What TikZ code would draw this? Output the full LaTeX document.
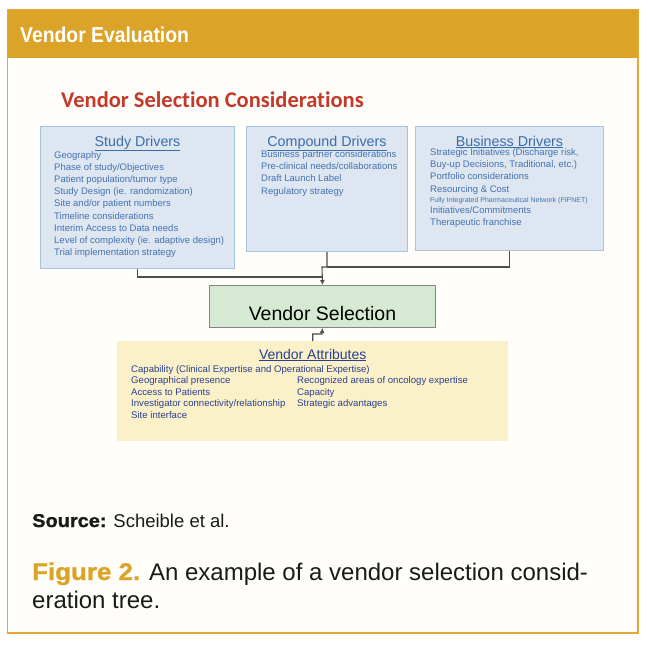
\documentclass[tikz,border=0pt]{standalone}
\usepackage{fontspec}
\setmainfont{Liberation Sans}
\newfontfamily\titrefont[Ligatures=NoCommon]{Carlito}
\newfontfamily\bandeaufont[FakeStretch=0.9]{Liberation Sans}
\newfontfamily\lourdefont[FakeStretch=1.08,FakeBold=1.2]{Liberation Sans}
\usetikzlibrary{arrows.meta, positioning}
\definecolor{dore}{HTML}{DCA329}
\definecolor{cadre}{HTML}{E6A735}
\definecolor{fondpage}{HTML}{FFFEFB}
\definecolor{rouge}{HTML}{C4392A}
\definecolor{bleufond}{HTML}{DDE6F1}
\definecolor{bleubord}{HTML}{A9C4DE}
\definecolor{bleutexte}{HTML}{4473B0}
\definecolor{bleutete}{HTML}{3B6EA9}
\definecolor{vertfond}{HTML}{D6E9D2}
\definecolor{grisbord}{HTML}{858585}
\definecolor{jaunefond}{HTML}{FBF1C8}
\definecolor{marine}{HTML}{2B3F8E}
\definecolor{trait}{HTML}{4D4D4D}
\definecolor{encre}{HTML}{1A1A1A}
\tikzset{
  pilier/.style={rectangle, draw=bleubord, fill=bleufond, line width=1pt,
    anchor=north west, inner sep=0pt},
  tete/.style={anchor=base, inner sep=0pt, text=bleutete,
    font=\fontsize{14.3}{17}\selectfont},
  liste/.style={anchor=north west, inner sep=0pt, align=left, text=bleutexte,
    font=\fontsize{9.5}{12.2}\selectfont},
  choix/.style={rectangle, draw=grisbord, fill=vertfond, line width=1pt,
    anchor=north west, inner sep=0pt, minimum width=226pt,
    text height=35pt, text depth=7pt, font=\fontsize{19.5}{23}\selectfont},
  attrbloc/.style={rectangle, fill=jaunefond, anchor=north west, inner sep=0pt},
  attrtete/.style={tete, text=marine, font=\fontsize{14}{17}\selectfont},
  attrliste/.style={liste, text=marine, font=\fontsize{9.6}{11.5}\selectfont},
  bandeau/.style={anchor=base west, inner sep=0pt, text=white,
    font=\bandeaufont\bfseries\fontsize{21.5}{24}\selectfont},
  titre/.style={anchor=base west, inner sep=0pt, text=rouge,
    font=\titrefont\bfseries\fontsize{22.5}{26}\selectfont},
  lien/.style={draw=trait, line width=1.1pt},
  fleche/.style={lien, -{Latex[length=5pt, width=5pt]}},
  legende/.style={anchor=base west, inner sep=0pt, text=encre, align=left},
}
\begin{document}
\begin{tikzpicture}[x=1pt, y=1pt]
  \useasboundingbox (0,0) rectangle (648,-648);
  % cadre et bandeau
  \draw[cadre, fill=fondpage, line width=1.3pt] (7.5,-10) rectangle (638,-633);
  \fill[dore] (7.5,-10) rectangle (638,-57.5);
  \node[bandeau] (entete) at (20,-42) {Vendor Evaluation};
  \node[titre] (titre) at (61,-107) {Vendor Selection Considerations};

  % les trois familles de facteurs
  \node[pilier, minimum width=194pt, minimum height=142pt] (etude) at (40,-126) {};
  \node[pilier, minimum width=161pt, minimum height=125pt] (compose) at (246,-126) {};
  \node[pilier, minimum width=188pt, minimum height=124pt] (affaires) at (415,-126) {};

  \node[tete] (etude-t) at ([yshift=-20pt]etude.north) {\underline{Study Drivers}};
  \node[liste] (etude-l) at ([xshift=14pt, yshift=-25pt]etude.north west)
    {Geography\\ Phase of study/Objectives\\ Patient population/tumor type\\
     Study Design (ie. randomization)\\ Site and/or patient numbers\\
     Timeline considerations\\ Interim Access to Data needs\\
     Level of complexity (ie. adaptive design)\\ Trial implementation strategy};

  \node[tete] (compose-t) at ([yshift=-20pt]compose.north) {\underline{Compound Drivers}};
  \node[liste] (compose-l) at ([xshift=15pt, yshift=-24.5pt]compose.north west)
    {Business partner considerations\\ Pre-clinical needs/collaborations\\
     Draft Launch Label\\ Regulatory strategy};

  \node[tete] (affaires-t) at ([yshift=-20pt]affaires.north) {\underline{Business Drivers}};
  \node[liste] (affaires-l) at ([xshift=15pt, yshift=-22.5pt]affaires.north west)
    {Strategic Initiatives (Discharge risk,\\ Buy-up Decisions, Traditional, etc.)\\
     Portfolio considerations\\ Resourcing \& Cost\\[-2.2pt]
     {\fontsize{7}{8}\selectfont Fully Integrated Pharmaceutical Network (FIPNET)}\\[-1.2pt]
     Initiatives/Commitments\\ Therapeutic franchise};

  % decision et attributs
  \node[choix] (choix) at (209,-285) {Vendor Selection};
  \node[attrbloc, minimum width=391pt, minimum height=100pt] (attributs) at (117,-341) {};
  \node[attrtete] (attributs-t) at ([yshift=-18pt]attributs.north) {\underline{Vendor Attributes}};
  \node[attrliste] (attributs-g) at ([xshift=14pt, yshift=-24pt]attributs.north west)
    {Capability (Clinical Expertise and Operational Expertise)\\
     Geographical presence\\ Access to Patients\\
     Investigator connectivity/relationship\\ Site interface};
  \node[attrliste] (attributs-d) at ([xshift=180pt, yshift=-35.5pt]attributs.north west)
    {Recognized areas of oncology expertise\\ Capacity\\ Strategic advantages};

  % liaisons
  \coordinate (coude) at (322,-267);
  \coordinate (jonction) at (322,-277);
  \coordinate (relais) at (322,-334);
  \draw[lien] (affaires.south) |- (compose.south |- coude);
  \draw[lien] (etude.south) |- (jonction);
  \draw[fleche] (compose.south) |- (coude) -- (choix.north);
  \draw[fleche] (attributs.north) |- (relais) -- (choix.south);

  % legende
  \node[legende, font=\fontsize{18.5}{22}\selectfont] (source) at (32,-527)
    {{\lourdefont\bfseries Source:} Scheible et al.};
  \node[legende, font=\fontsize{24}{28}\selectfont] (figure) at (32,-608)
    {{\lourdefont\bfseries\color{dore}Figure 2.} An example of a vendor selection consid-\\eration tree.};
\end{tikzpicture}
\end{document}
